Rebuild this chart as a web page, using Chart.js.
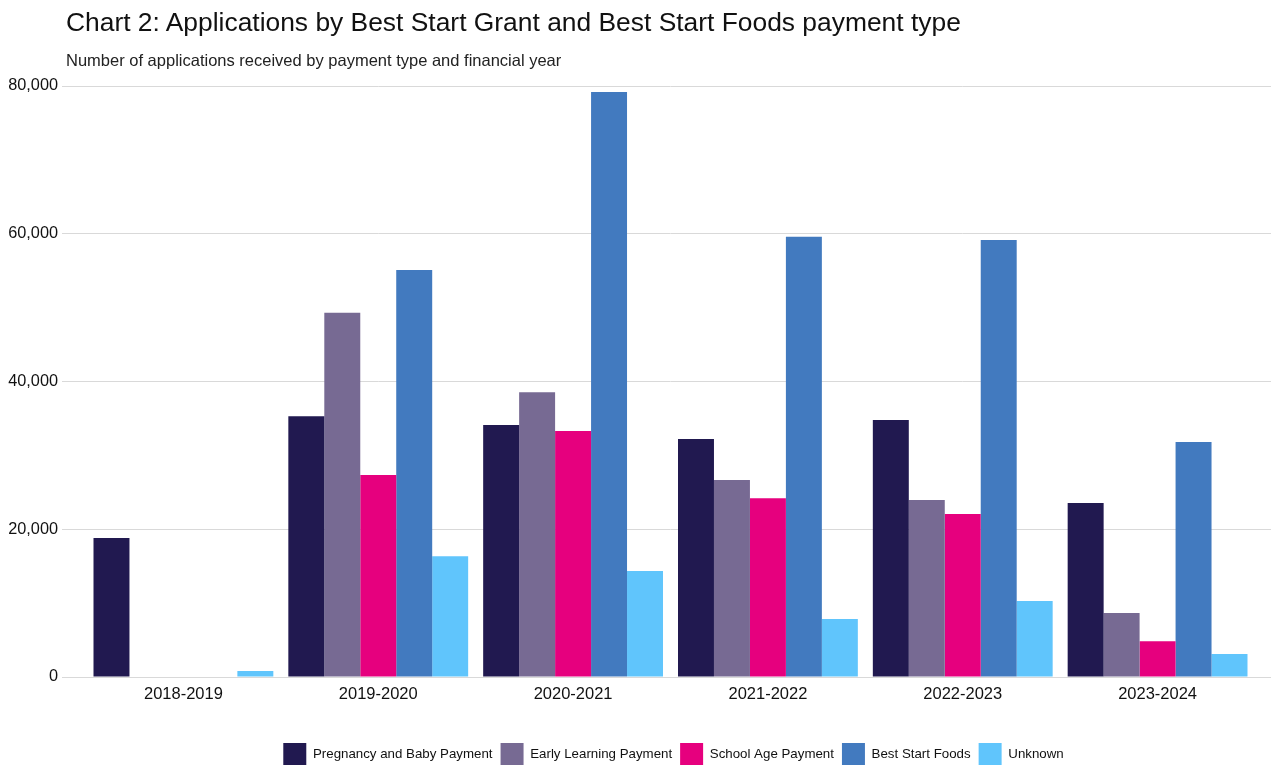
<!DOCTYPE html>
<html>
<head>
<meta charset="utf-8">
<script src="https://cdn.jsdelivr.net/npm/chart.js@4"></script>
<style>
  body { margin: 0; background: #fff; font-family: "Liberation Sans", Arial, sans-serif; }
  #wrap { position: relative; width: 1271px; height: 765px; overflow: hidden; }
  #title { position: absolute; left: 66px; top: 9px; font-size: 26.4px; line-height: 1; color: #111; white-space: nowrap; }
  #subtitle { position: absolute; left: 66px; top: 52px; font-size: 16.5px; line-height: 1; color: #222; white-space: nowrap; }
</style>
</head>
<body>
<div id="wrap">
  <canvas id="myBarChart" width="1271" height="765"></canvas>
  <div id="title">Chart 2: Applications by Best Start Grant and Best Start Foods payment type</div>
  <div id="subtitle">Number of applications received by payment type and financial year</div>
</div>
<script>
// financial years
const years = ['2018-2019', '2019-2020', '2020-2021', '2021-2022', '2022-2023', '2023-2024'];

// applications per payment type
const pregnancyBaby = [18800, 35300, 34100, 32200, 34800, 23550];
const earlyLearning = [0, 49300, 38550, 26650, 23950, 8650];
const schoolAge = [0, 27350, 33300, 24200, 22050, 4850];
const bestStartFoods = [0, 55100, 79200, 59600, 59150, 31800];
const unknown = [800, 16350, 14350, 7850, 10300, 3100];

const yTicks = [0, 20000, 40000, 60000, 80000];

const data1 = {
    labels: years,
    datasets: [
        { label: 'Pregnancy and Baby Payment', data: pregnancyBaby, backgroundColor: '#211950' },
        { label: 'Early Learning Payment', data: earlyLearning, backgroundColor: '#776a93' },
        { label: 'School Age Payment', data: schoolAge, backgroundColor: '#e6007e' },
        { label: 'Best Start Foods', data: bestStartFoods, backgroundColor: '#427abf' },
        { label: 'Unknown', data: unknown, backgroundColor: '#60c5fc' },
    ],
};

// legend in the original sits a bit right of centre
const legendShift = {
    id: 'legendShift',
    afterLayout(chart) {
        chart.legend.left += 34;
        chart.legend.right += 34;
    },
};

const config = {
    type: 'bar',
    data: data1,
    plugins: [legendShift],
    options: {
        responsive: false,
        animation: false,
        layout: { padding: { top: 86, left: 8, right: 0, bottom: -11 } },
        datasets: { bar: { categoryPercentage: 0.923, barPercentage: 1 } },
        scales: {
            x: {
                grid: { display: false },
                border: { color: '#d9d9d9' },
                ticks: { color: '#111', font: { family: 'Liberation Sans', size: 16.5 }, padding: 0 },
                afterFit: (axis) => { axis.height = 58; },
            },
            y: {
                min: 0,
                max: 80000,
                afterBuildTicks: (axis) => { axis.ticks = yTicks.map(v => ({ value: v })); },
                afterFit: (axis) => { axis.width = 78; },
                grid: { color: '#d9d9d9', tickLength: 24 },
                border: { display: false },
                ticks: {
                    color: '#111',
                    font: { family: 'Liberation Sans', size: 16.3 },
                    padding: 4,
                    callback: (v) => v.toLocaleString('en-GB'),
                },
            },
            yRight: {
                position: 'right',
                min: 0,
                max: 80000,
                afterBuildTicks: (axis) => { axis.ticks = yTicks.map(v => ({ value: v })); },
                afterFit: (axis) => { axis.width = 16; },
                grid: { color: '#d9d9d9', tickLength: 16, drawOnChartArea: false },
                border: { display: false },
                ticks: { display: false },
            },
        },
        plugins: {
            legend: {
                position: 'bottom',
                labels: {
                    boxWidth: 23,
                    boxHeight: 23,
                    padding: 8,
                    color: '#111',
                    font: { family: 'Liberation Sans', size: 13.3 },
                },
            },
            title: { display: false },
            tooltip: { enabled: false },
        },
    },
};

var ctx = document.getElementById('myBarChart').getContext('2d');
var myBarChart = new Chart(ctx, config);
</script>
</body>
</html>
